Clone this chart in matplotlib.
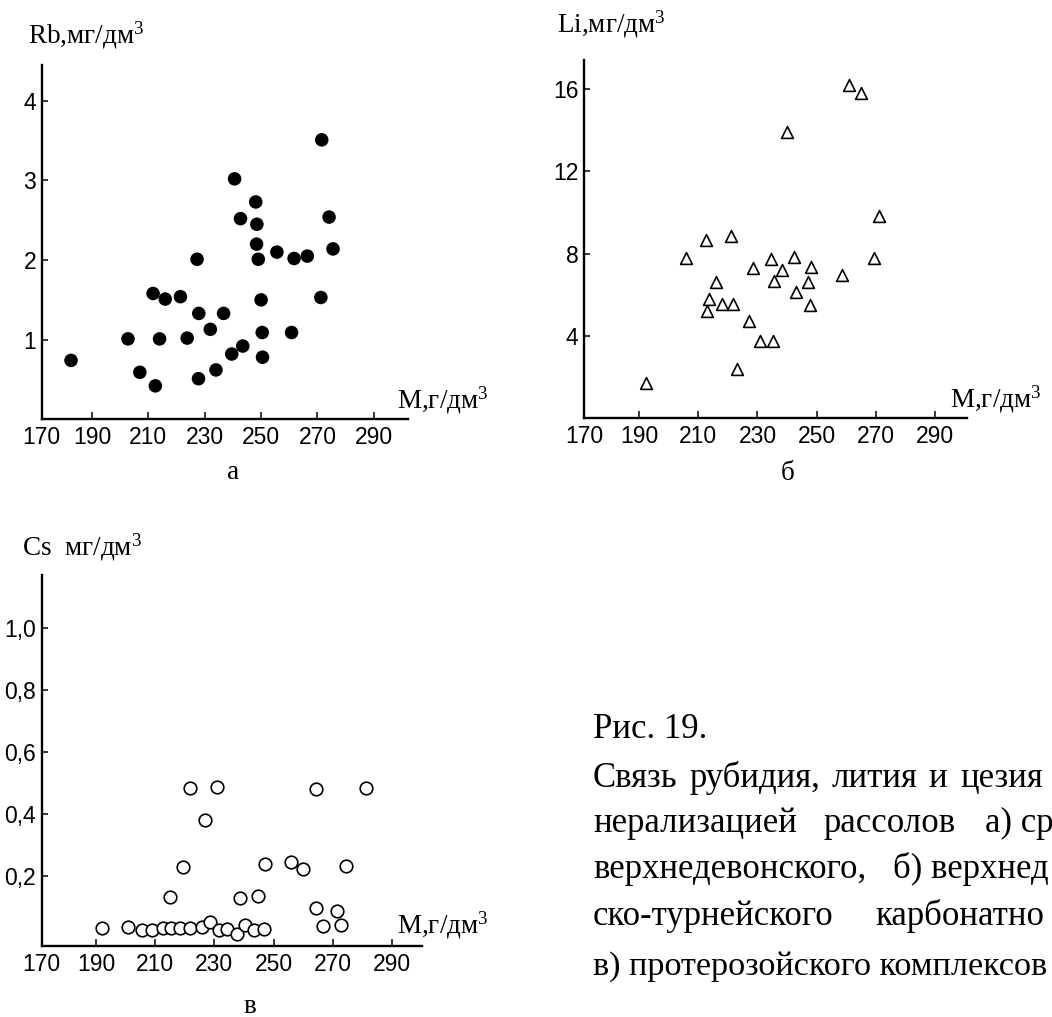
import matplotlib
matplotlib.use("Agg")
import matplotlib.pyplot as plt

plt.rcParams['font.family'] = ['Liberation Sans Narrow', 'Liberation Sans']
plt.rcParams['mathtext.fontset'] = 'custom'
plt.rcParams['mathtext.rm'] = 'Liberation Serif'
plt.rcParams['mathtext.it'] = 'Liberation Serif:italic'
plt.rcParams['mathtext.bf'] = 'Liberation Serif:bold'

# ---------------- data ----------------
x_ticks = [190, 210, 230, 250, 270, 290]
x_tick_labels = ['170', '190', '210', '230', '250', '270', '290']

rb_m = [182.6, 202.8, 207.0, 211.7, 212.5, 214.0, 216.0, 221.4, 223.8, 227.3,
        227.8, 227.9, 232.0, 234.0, 236.7, 239.6, 240.6, 242.7, 243.5, 248.1,
        248.5, 248.4, 249.0, 250.0, 250.4, 250.5, 255.6, 260.8, 261.7, 266.4,
        271.2, 271.5, 274.1, 275.5]
rb_val = [0.74, 1.01, 0.59, 1.58, 0.42, 1.01, 1.51, 1.54, 1.02, 2.01,
          0.51, 1.33, 1.13, 0.62, 1.33, 0.82, 3.02, 2.52, 0.92, 2.73,
          2.45, 2.20, 2.01, 1.50, 1.09, 0.78, 2.10, 1.09, 2.02, 2.05,
          1.53, 3.51, 2.54, 2.14]
rb_yticks = [1, 2, 3, 4]
rb_yticklabels = ['1', '2', '3', '4']

li_m = [192.5, 206.0, 212.5, 212.8, 213.8, 216.0, 218.0, 221.2, 221.7, 223.0,
        227.3, 228.4, 230.7, 234.5, 235.2, 235.6, 238.2, 240.1, 242.5, 243.1,
        247.2, 248.0, 247.9, 258.7, 260.9, 265.1, 269.5, 271.2]
li_val = [1.73, 7.77, 8.66, 5.19, 5.79, 6.60, 5.55, 8.85, 5.55, 2.40,
          4.71, 7.29, 3.77, 7.76, 3.77, 6.68, 7.21, 13.9, 7.82, 6.13,
          6.63, 7.34, 5.48, 6.97, 16.2, 15.8, 7.80, 9.82]
li_yticks = [4, 8, 12, 16]
li_yticklabels = ['4', '8', '12', '16']

cs_m = [191.9, 200.7, 205.5, 209.0, 212.6, 215.0, 215.4, 218.3, 219.3, 221.7,
        221.9, 225.7, 226.8, 228.6, 231.0, 231.5, 234.1, 237.7, 238.8, 240.4,
        243.3, 244.6, 246.8, 247.1, 255.9, 259.8, 264.3, 264.3, 266.6, 271.6,
        272.7, 274.4, 281.3]
cs_val = [0.033, 0.037, 0.028, 0.029, 0.033, 0.133, 0.033, 0.033, 0.230, 0.035,
          0.484, 0.038, 0.381, 0.053, 0.489, 0.028, 0.031, 0.014, 0.132, 0.043,
          0.028, 0.138, 0.031, 0.241, 0.245, 0.225, 0.482, 0.098, 0.039, 0.090,
          0.042, 0.235, 0.484]
cs_yticks = [0.2, 0.4, 0.6, 0.8, 1.0]
cs_yticklabels = ['0,2', '0,4', '0,6', '0,8', '1,0']

# ---------------- figure ----------------
W, H = 1052, 1017
fig = plt.figure(figsize=(W / 100, H / 100), dpi=100)
SERIF = 'Liberation Serif'


def px_axes(l, t, r, b):
    return fig.add_axes([l / W, 1 - b / H, (r - l) / W, (b - t) / H])


def ftxt(x, y, s, size=19.5, ha='left', **kw):
    fig.text(x / W, 1 - y / H, s, ha=ha, va='baseline', fontsize=size,
             family=SERIF, **kw)


def style(ax, xlim, ylim, yticks, yticklabels):
    ax.set_xlim(*xlim)
    ax.set_ylim(*ylim)
    for s in ['top', 'right']:
        ax.spines[s].set_visible(False)
    for s in ['left', 'bottom']:
        ax.spines[s].set_linewidth(1.7)
        ax.spines[s].set_color('black')
    ax.set_xticks([xlim[0]] + x_ticks)
    ax.set_xticklabels(x_tick_labels)
    ax.set_yticks(yticks)
    ax.set_yticklabels(yticklabels)
    ax.tick_params(axis='x', direction='in', length=5, width=1.1, pad=5,
                   labelsize=16.5, colors='black')
    ax.tick_params(axis='y', direction='in', length=4.3, width=1.1, pad=4,
                   labelsize=16.5, colors='black')
    ax.patch.set_alpha(0)


# panel a
ax1 = px_axes(41.7, 65, 408.3, 419.3)
ax1.scatter(rb_m, rb_val, s=95, c='black', edgecolors='none', clip_on=False)
style(ax1, (172.2, 302.2), (0, 4.45), rb_yticks, rb_yticklabels)

# panel b
ax2 = px_axes(584, 60, 967.3, 418.3)
ax2.scatter(li_m, li_val, s=72, marker='^', facecolors='white',
            edgecolors='black', linewidths=1.2, clip_on=False)
style(ax2, (171.4, 300.9), (0, 17.4), li_yticks, li_yticklabels)

# panel c
ax3 = px_axes(41.7, 575, 421.7, 946)
ax3.scatter(cs_m, cs_val, s=82, marker='o', facecolors='white',
            edgecolors='black', linewidths=1.2, clip_on=False)
style(ax3, (171.6, 300.1), (-0.024, 1.17), cs_yticks, cs_yticklabels)

# axis titles
ftxt(28, 42.7, r'Rb,мг/дм$^{\mathrm{3}}$')
ftxt(557, 32, r'Li,мг/дм$^{\mathrm{3}}$')
ftxt(22, 555, r'Cs  мг/дм$^{\mathrm{3}}$')
ftxt(397, 408, r'М,г/дм$^{\mathrm{3}}$')
ftxt(950, 407, r'М,г/дм$^{\mathrm{3}}$')
ftxt(397, 933, r'М,г/дм$^{\mathrm{3}}$')

# panel letters
ftxt(233, 479, 'а', ha='center')
ftxt(788, 480, 'б', ha='center')
ftxt(250, 1013, 'в', ha='center')

# caption
CS = 25
ftxt(593, 738, 'Рис. 19.', size=CS)
ftxt(593, 787, 'Связь', size=CS)
ftxt(690, 787, 'рубидия,', size=CS)
ftxt(832, 787, 'лития', size=CS)
ftxt(928, 787, 'и', size=CS)
ftxt(960, 787, 'цезия', size=CS)
ftxt(593, 832, 'нерализацией', size=CS)
ftxt(823, 832, 'рассолов', size=CS)
ftxt(985, 832, 'а) ср', size=CS)
ftxt(593, 878, 'верхнедевонского,', size=CS)
ftxt(893, 878, 'б) верхнед', size=CS)
ftxt(593, 925, 'ско-турнейского', size=CS)
ftxt(875, 925, 'карбонатно', size=CS)
ftxt(593, 975, 'в) протерозойского комплексов', size=24.6)

fig.savefig('out.png', dpi=100)
